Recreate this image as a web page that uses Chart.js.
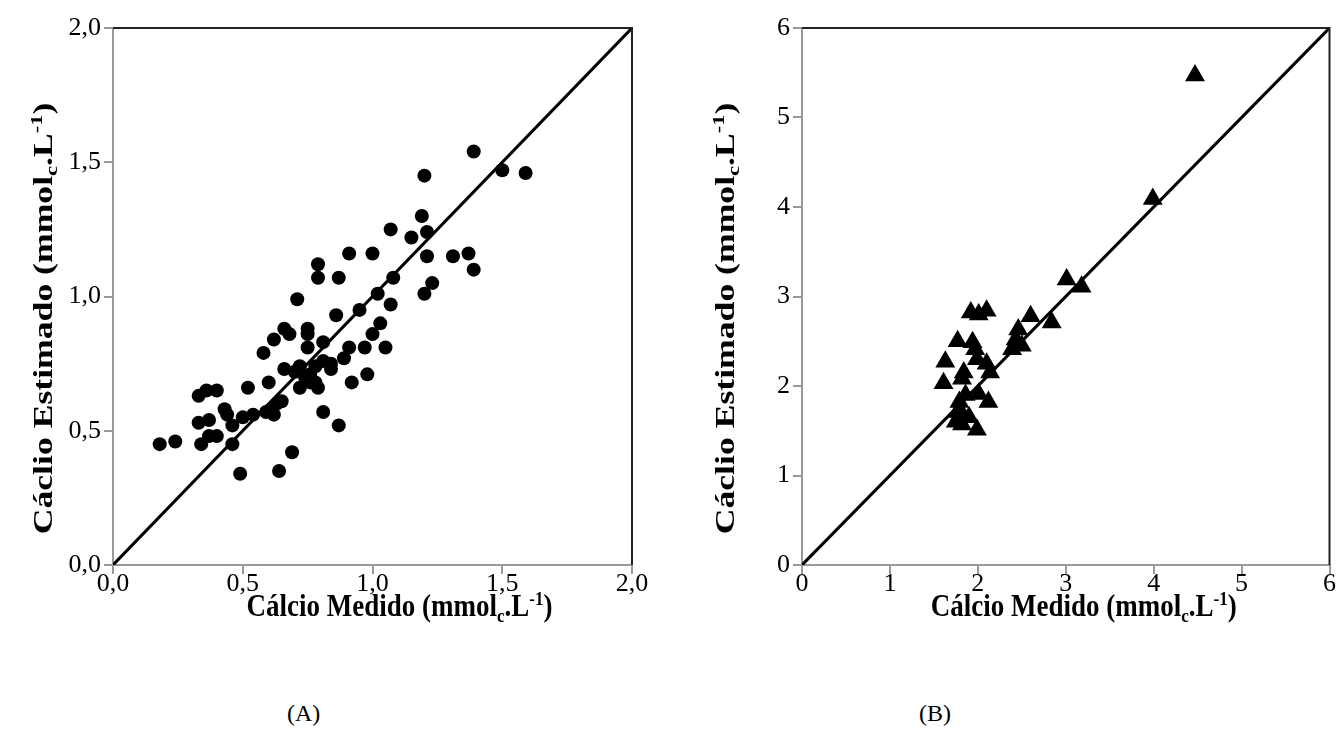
<!DOCTYPE html>
<html>
<head>
<meta charset="utf-8">
<script src="https://cdn.jsdelivr.net/npm/chart.js@4.4.0/dist/chart.umd.min.js"></script>
<style>
  body { margin: 0; background: #fff; }
  #wrap { position: relative; width: 1341px; height: 729px; background: #fff; overflow: hidden; }
  .box { position: absolute; top: 0; }
  .cap { position: absolute; top: 700px; font: 24px "Liberation Serif", "Times New Roman", serif; color: #000; }
</style>
</head>
<body>
<div id="wrap">
  <div class="box" style="left:0"><canvas id="chartA" width="660" height="630"></canvas></div>
  <div class="box" style="left:680px"><canvas id="chartB" width="661" height="630"></canvas></div>
  <div class="cap" style="left:287px">(A)</div>
  <div class="cap" style="left:919px">(B)</div>
</div>
<script>
// Panel A - calcio medido x estimado (circles)
const medidoA = [0.18, 0.24, 0.34, 0.37, 0.40, 0.46, 0.49, 0.64, 0.69, 0.81, 0.87, 0.33, 0.37, 0.43, 0.44,
  0.46, 0.50, 0.54, 0.33, 0.36, 0.40, 0.52, 0.60, 0.59, 0.61, 0.63, 0.62, 0.65, 0.66, 0.58,
  0.62, 0.66, 0.68, 0.75, 0.75, 0.75, 0.81, 0.71, 0.79, 0.79, 0.87, 0.86, 0.95, 0.91, 1.00,
  1.07, 1.15, 1.19, 1.21, 1.20, 1.39, 1.50, 1.59, 1.21, 1.31, 1.37, 1.39, 1.08, 1.23, 1.20,
  1.02, 1.07, 1.03, 1.00, 1.05, 0.91, 0.97, 0.89, 0.98, 0.92, 0.72, 0.74, 0.76, 0.78, 0.79,
  0.81, 0.84, 0.84, 0.72, 0.76, 0.70, 0.78];
const estimadoA = [0.45, 0.46, 0.45, 0.48, 0.48, 0.45, 0.34, 0.35, 0.42, 0.57, 0.52, 0.53, 0.54, 0.58, 0.56,
  0.52, 0.55, 0.56, 0.63, 0.65, 0.65, 0.66, 0.68, 0.57, 0.58, 0.60, 0.56, 0.61, 0.73, 0.79,
  0.84, 0.88, 0.86, 0.88, 0.86, 0.81, 0.83, 0.99, 1.12, 1.07, 1.07, 0.93, 0.95, 1.16, 1.16,
  1.25, 1.22, 1.30, 1.24, 1.45, 1.54, 1.47, 1.46, 1.15, 1.15, 1.16, 1.10, 1.07, 1.05, 1.01,
  1.01, 0.97, 0.90, 0.86, 0.81, 0.81, 0.81, 0.77, 0.71, 0.68, 0.74, 0.70, 0.71, 0.68, 0.66,
  0.76, 0.75, 0.73, 0.66, 0.68, 0.72, 0.74];

// Panel B - triangles
const medidoB = [1.63, 1.61, 1.77, 1.92, 2.01, 2.10, 1.94, 1.97, 1.99, 2.10, 2.14, 1.84, 1.82, 2.01, 2.12,
  1.79, 1.77, 1.75, 1.82, 1.80, 1.99, 1.86, 1.90, 2.46, 2.43, 2.39, 2.50, 2.60, 2.84, 3.01,
  3.18, 3.99, 4.47];
const estimadoB = [2.27, 2.03, 2.50, 2.82, 2.80, 2.84, 2.49, 2.41, 2.30, 2.25, 2.15, 2.15, 2.08, 1.91, 1.82,
  1.82, 1.71, 1.60, 1.57, 1.72, 1.51, 1.90, 1.65, 2.63, 2.52, 2.41, 2.45, 2.78, 2.71, 3.19,
  3.11, 4.09, 5.47];

const ticksA = [0, 0.5, 1.0, 1.5, 2.0];
const ticksB = [0, 1, 2, 3, 4, 5, 6];

const titleX = [{t: 'Cálcio Medido (mmol'}, {t: 'c', sub: true}, {t: '.L'}, {t: '-1', sup: true}, {t: ')'}];
const titleY = [{t: 'Cáclio Estimado (mmol'}, {t: 'c', sub: true}, {t: '.L'}, {t: '-1', sup: true}, {t: ')'}];

const FONT = '"Liberation Serif", "Times New Roman", serif';

// draws a title with subscript / superscript parts, centred on (cx, cy)
// sAlong / sAcross stretch the text (the original picture is a bit taller than wide)
function drawRich(ctx, parts, cx, cy, rotate, sAlong, sAcross) {
  const big = 'bold 27px ' + FONT, small = 'bold 17px ' + FONT;
  let total = 0;
  parts.forEach(p => { ctx.font = (p.sub || p.sup) ? small : big; total += ctx.measureText(p.t).width; });
  ctx.save();
  ctx.translate(cx, cy);
  if (rotate) ctx.rotate(-Math.PI / 2);
  ctx.scale(sAlong, sAcross);
  ctx.fillStyle = '#000';
  ctx.textBaseline = 'middle';
  ctx.textAlign = 'left';
  let x = -total / 2;
  parts.forEach(p => {
    ctx.font = (p.sub || p.sup) ? small : big;
    const dy = p.sub ? 8 : (p.sup ? -7 : 0);
    ctx.fillText(p.t, x, dy);
    x += ctx.measureText(p.t).width;
  });
  ctx.restore();
}

const framePlugin = {
  id: 'frame',
  afterDraw(chart) {
    const {ctx, chartArea: a} = chart;
    ctx.save();
    ctx.strokeStyle = '#222';
    ctx.lineWidth = 2;
    ctx.beginPath();
    ctx.moveTo(a.left, a.top);
    ctx.lineTo(a.right, a.top);
    ctx.lineTo(a.right, a.bottom);
    ctx.stroke();
    ctx.restore();
    const o = chart.options.plugins.frame;
    drawRich(ctx, titleX, (a.left + a.right) / 2 + o.xShift, 608, false, 1, 1.15);
    drawRich(ctx, titleY, o.yTitleX, (a.top + a.bottom) / 2 + 22, true, 1.32, 1);
  }
};

function makeChart(id, xs, ys, max, fmt, marker, radius, ticks, cfg) {
  const pts = xs.map((x, i) => ({x: x, y: ys[i]}));
  const axis = (w, h, pad) => ({
    type: 'linear', min: 0, max: max,
    afterBuildTicks: s => { s.ticks = ticks.map(v => ({value: v})); },
    ticks: {
      color: '#000', padding: pad,
      font: {family: FONT, size: 26, lineHeight: 1},
      callback: v => fmt(v)
    },
    grid: {drawOnChartArea: false, drawTicks: true, tickLength: 9, color: '#999', lineWidth: 2},
    border: {color: '#999', width: 2},
    afterFit: s => {
      if (w) s.width = w;
      if (h) s.height = h;
      s.paddingLeft = 0; s.paddingRight = 0; s.paddingTop = 0; s.paddingBottom = 0;
    }
  });
  return new Chart(document.getElementById(id), {
    type: 'scatter',
    data: {
      datasets: [{
        data: pts,
        pointStyle: marker,
        pointRadius: radius,
        pointHoverRadius: radius,
        backgroundColor: '#000',
        borderColor: '#000',
        borderWidth: 0
      }, {
        type: 'line',
        data: [{x: 0, y: 0}, {x: max, y: max}],
        borderColor: '#000',
        borderWidth: 3,
        pointRadius: 0,
        fill: false
      }]
    },
    options: {
      responsive: false,
      animation: false,
      devicePixelRatio: 1,
      layout: {padding: {left: 0, top: 28, right: cfg.right, bottom: 0}},
      plugins: {
        legend: {display: false},
        tooltip: {enabled: false},
        frame: {xShift: cfg.xShift, yTitleX: cfg.yTitleX}
      },
      scales: {
        x: axis(null, 630 - 565, -3),
        y: axis(cfg.yWidth, null, 3)
      }
    },
    plugins: [framePlugin]
  });
}

makeChart('chartA', medidoA, estimadoA, 2, v => v.toFixed(1).replace('.', ','), 'circle', 7, ticksA,
  {right: 28, yWidth: 113, yTitleX: 45, xShift: 27});
makeChart('chartB', medidoB, estimadoB, 6, v => String(v), 'triangle', 11.5, ticksB,
  {right: 10, yWidth: 122, yTitleX: 47, xShift: 18});
</script>
</body>
</html>
